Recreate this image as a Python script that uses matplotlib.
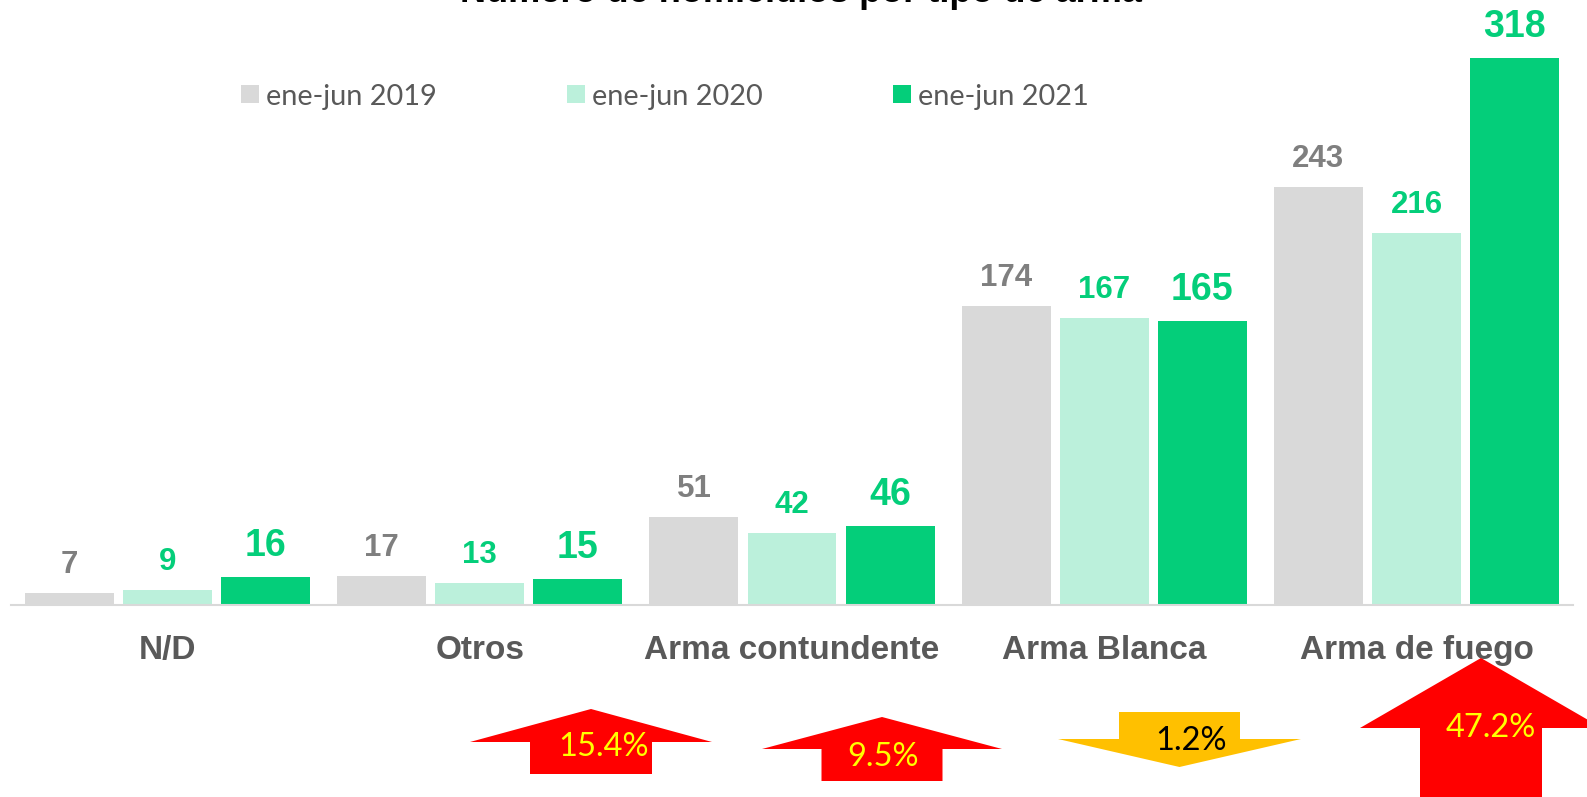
import matplotlib
matplotlib.use("Agg")
import matplotlib.pyplot as plt
from matplotlib.patches import Polygon, Patch
from matplotlib.transforms import Affine2D, blended_transform_factory
import numpy as np

# ---------------- data ----------------
categories = ["N/D", "Otros", "Arma contundente", "Arma Blanca", "Arma de fuego"]
series_names = ["ene-jun 2019", "ene-jun 2020", "ene-jun 2021"]
v2019 = [7, 17, 51, 174, 243]
v2020 = [9, 13, 42, 167, 216]
v2021 = [16, 15, 46, 165, 318]
title = "Número de homicidios por tipo de arma"

# ---------------- style ----------------
W, H = 1587, 797
DPI = 100
bar_colors = ["#d9d9d9", "#bbf0db", "#04ce7a"]
label_colors = ["#7f7f7f", "#04ce7a", "#04ce7a"]
label_sizes = [22.5, 22.5, 27]
label_pads = [14.4, 14.4, 15.2]
cat_color = "#595959"
bold_font = "Liberation Sans"
light_font = "Lato"

fig = plt.figure(figsize=(W / DPI, H / DPI), dpi=DPI)
fig.patch.set_facecolor("white")
# pixel (top-left origin) -> figure transform
px = Affine2D().scale(1 / W, -1 / H).translate(0, 1) + fig.transFigure

ax_left, ax_right = 11.4, 1572.6
ax_bottom_px, ax_top_px = 605, 0
ax = fig.add_axes([ax_left / W, 1 - ax_bottom_px / H,
                   (ax_right - ax_left) / W, (ax_bottom_px - ax_top_px) / H])
ax.set_xlim(-0.5, len(categories) - 0.5)
ax.set_ylim(0, 605 / 1.72)

x = np.arange(len(categories))
bw = 0.285
step = 0.314
all_series = [v2019, v2020, v2021]
for i, vals in enumerate(all_series):
    xs = x + (i - 1) * step
    ax.bar(xs, vals, width=bw, color=bar_colors[i], zorder=2)
    for xi, v in zip(xs, vals):
        ax.annotate(str(v), (xi, v), xytext=(0, label_pads[i]),
                    textcoords="offset points", ha="center", va="baseline",
                    fontsize=label_sizes[i], fontweight="bold",
                    color=label_colors[i], family=bold_font)

for s in ["top", "left", "right"]:
    ax.spines[s].set_visible(False)
ax.spines["bottom"].set_color("#d9d9d9")
ax.spines["bottom"].set_linewidth(1.5)
ax.spines["bottom"].set_zorder(3)
ax.set_yticks([])
ax.set_xticks([])

# category labels
tr = blended_transform_factory(ax.transData, px)
for xi, c in zip(x, categories):
    ax.text(xi, 659, c, transform=tr, ha="center", va="baseline",
            fontsize=24, fontweight="bold", color=cat_color, family=bold_font)

# legend
fs_leg = 20.8
fs_px = fs_leg * DPI / 72
handles = [Patch(facecolor=c, edgecolor="none") for c in bar_colors]
leg = fig.legend(handles, series_names, ncol=3, loc="center left",
                 bbox_to_anchor=(241 / W, 1 - 96.5 / H), frameon=False,
                 prop={"family": light_font, "size": fs_leg},
                 handlelength=18 / fs_px, handleheight=17 / fs_px,
                 handletextpad=7 / fs_px, columnspacing=130 / fs_px,
                 borderpad=0, borderaxespad=0)
for t in leg.get_texts():
    t.set_color(cat_color)

# title (cut off at the top edge, as in the reference)
fig.text(801 / W, 1 - 2.5 / H, title, ha="center", va="baseline",
         fontsize=26, fontweight="bold", color="black", family=bold_font)

# change arrows (2021 vs 2020)
arrow_layout = {
    1: dict(tx=591, ty=709, wy=742, hw=121, sw=61, by=774, lx=604, ly=756),
    2: dict(tx=882, ty=717, wy=749, hw=120, sw=60.5, by=781, lx=883, ly=766),
    3: dict(tx=1179.5, ty=767, wy=739, hw=121.5, sw=60.5, by=712, lx=1191, ly=750),
    4: dict(tx=1481, ty=658, wy=728, hw=121, sw=61, by=810, lx=1491, ly=737),
}
for idx, L in arrow_layout.items():
    pct = (v2021[idx] - v2020[idx]) / v2020[idx] * 100
    up = pct >= 0
    tx, ty, wy, hw, sw, by = L["tx"], L["ty"], L["wy"], L["hw"], L["sw"], L["by"]
    pts = [(tx, ty), (tx + hw, wy), (tx + sw, wy), (tx + sw, by),
           (tx - sw, by), (tx - sw, wy), (tx - hw, wy)]
    fc = "#ff0000" if up else "#ffc000"
    tc = "#ffff00" if up else "black"
    fig.add_artist(Polygon(pts, closed=True, facecolor=fc, edgecolor="none",
                           transform=px, zorder=5))
    fig.text(L["lx"], L["ly"], f"{abs(pct):.1f}%", transform=px,
             ha="center", va="baseline", fontsize=23.5, color=tc,
             family=light_font, zorder=6)

fig.savefig("out.png", dpi=DPI, facecolor="white")
